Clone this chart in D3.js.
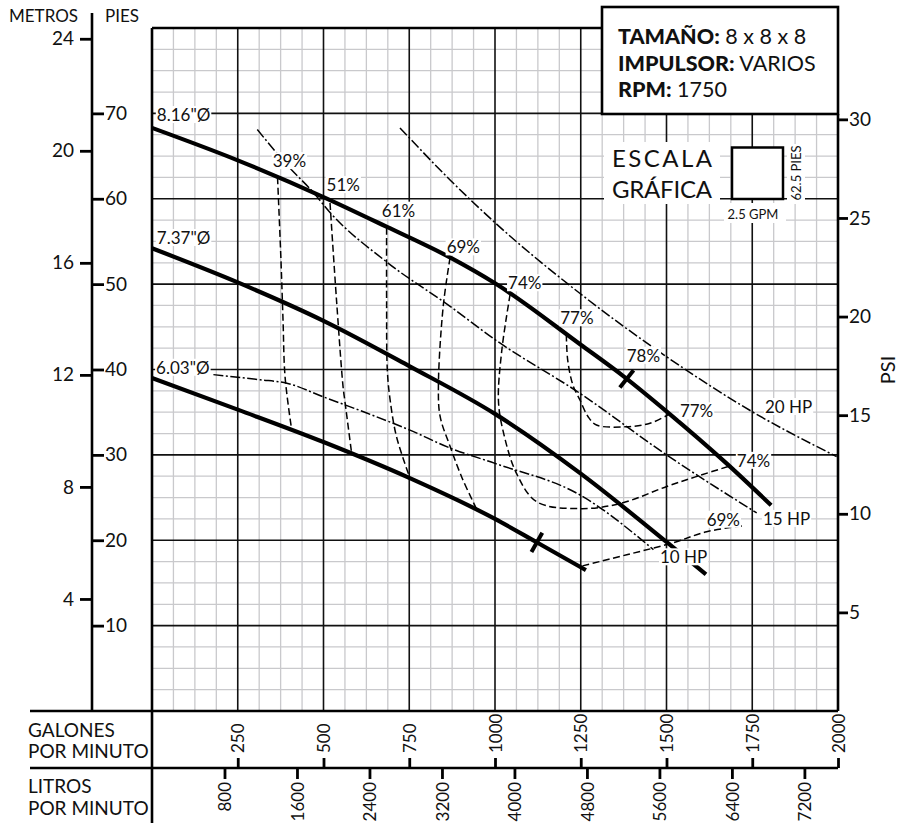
<!DOCTYPE html>
<html>
<head>
<meta charset="utf-8">
<script src="https://cdn.jsdelivr.net/npm/d3@7"></script>
<style>
  body { margin: 0; background: #fff; }
  svg { display: block; }
</style>
</head>
<body>
<div id="chart"></div>
<script>
// curvas del impulsor (GPM / pies)
const d816Gpm = [0, 250, 500, 685, 870, 1000, 1250, 1375, 1500, 1675, 1805];
const d816Ft = [68.3, 64.5, 60.2, 56.7, 53.1, 50.1, 42.9, 39.2, 35.1, 29.0, 24.1];
const d737Gpm = [0, 250, 500, 750, 1000, 1250, 1500, 1615];
const d737Ft = [54.2, 50.2, 45.7, 40.4, 34.8, 27.8, 19.8, 16.0];
const d603Gpm = [0, 250, 500, 750, 1000, 1120, 1265];
const d603Ft = [39.0, 35.3, 31.5, 27.3, 22.5, 19.8, 16.5];

// potencia (HP)
const hp20Gpm = [723, 869, 1000, 1248, 1500, 1748, 1996];
const hp20Ft = [68.3, 62.2, 57.2, 48.9, 41.5, 35.1, 29.8];
const hp15Gpm = [307, 402, 469, 519, 684, 869, 1000, 1248, 1500, 1763];
const hp15Ft = [68.1, 63.6, 60.8, 58.4, 52.6, 47.4, 43.5, 37.2, 30.0, 23.2];
const hp10Gpm = [179, 315, 393, 499, 626, 752, 869, 1000, 1248, 1462];
const hp10Ft = [39.4, 38.8, 38.4, 36.8, 34.9, 32.9, 30.8, 29.0, 25.3, 18.9];

// eficiencia (%)
const eff39Gpm = [366, 376, 382, 388, 407];
const eff39Ft = [62.5, 52.8, 45.8, 39.1, 33.0];
const eff51Gpm = [519, 538, 557, 563, 582];
const eff51Ft = [59.5, 48.1, 38.0, 36.1, 30.2];
const eff61Gpm = [684, 684, 686, 694, 713, 752];
const eff61Ft = [56.6, 48.0, 40.0, 36.5, 32.1, 27.3];
const eff69Gpm = [869, 849, 835, 840, 869, 904, 947];
const eff69Ft = [53.1, 47.4, 38.0, 34.5, 31.0, 27.3, 23.6];
const eff74Gpm = [1044, 1020, 1010, 1023, 1063, 1122, 1248, 1365, 1501, 1598, 1685];
const eff74Ft = [48.8, 42.3, 36.4, 32.9, 27.8, 24.5, 23.7, 24.3, 26.3, 27.6, 28.7];
const eff77Gpm = [1208, 1212, 1227, 1248, 1271, 1296, 1384, 1452, 1510];
const eff77Ft = [44.1, 41.1, 38.2, 36.4, 34.5, 33.5, 33.3, 33.7, 34.8];
const eff69bGpm = [1255, 1384, 1519, 1617, 1723];
const eff69bFt = [17.0, 18.3, 19.7, 21.0, 21.7];

// marcas en las curvas (GPM)
const mark816Gpm = 1384;
const mark603Gpm = 1122;

// etiquetas de ejes
const feetTicks = [10, 20, 30, 40, 50, 60, 70];
const meterTicks = [4, 8, 12, 16, 20, 24];
const psiTicks = [5, 10, 15, 20, 25, 30];
const gpmTicks = [250, 500, 750, 1000, 1250, 1500, 1750, 2000];
const lpmTicks = [800, 1600, 2400, 3200, 4000, 4800, 5600, 6400, 7200];

// textos sobre el gráfico
const curveLabels = [
  { text: "8.16\"Ø", gpm: 14, ft: 69.1 },
  { text: "7.37\"Ø", gpm: 14, ft: 54.7 },
  { text: "6.03\"Ø", gpm: 12, ft: 39.5 },
  { text: "39%", gpm: 352, ft: 63.7 },
  { text: "51%", gpm: 509, ft: 60.9 },
  { text: "61%", gpm: 670, ft: 57.9 },
  { text: "69%", gpm: 859, ft: 53.6 },
  { text: "74%", gpm: 1038, ft: 49.4 },
  { text: "77%", gpm: 1190, ft: 45.3 },
  { text: "78%", gpm: 1384, ft: 40.9 },
  { text: "77%", gpm: 1539, ft: 34.4 },
  { text: "74%", gpm: 1705, ft: 28.6 },
  { text: "69%", gpm: 1617, ft: 21.7 },
  { text: "20 HP", gpm: 1787, ft: 34.9 },
  { text: "15 HP", gpm: 1781, ft: 21.8 },
  { text: "10 HP", gpm: 1481, ft: 17.3 }
];

const W = 904, H = 823;
const FONT = "Lato, 'Open Sans', sans-serif";
const pLeft = 152, pRight = 838, pTop = 28, pBottom = 711;

const svg = d3.select("#chart").append("svg")
  .attr("width", W).attr("height", H)
  .style("font-family", FONT);

// escalas
const x = d3.scaleLinear().domain([0, 2000]).range([pLeft, pRight]);
const y = d3.scaleLinear().domain([0, 80]).range([pBottom, pTop]);
const yM = d3.scaleLinear().domain([0, 80 / 3.28084]).range([pBottom, pTop]);
const yPsi = d3.scaleLinear().domain([0, 80 / 2.31]).range([pBottom, pTop]);
const xL = d3.scaleLinear().domain([0, 2000 * 3.78541]).range([pLeft, pRight]);

// cuadrícula
const grid = svg.append("g");
const minorX = d3.range(0, 2000.1, 62.5).filter(v => v % 250 !== 0);
const minorY = d3.range(0, 80.1, 2.5).filter(v => v % 10 !== 0);
grid.selectAll(".mx").data(minorX).enter().append("line")
  .attr("x1", d => x(d)).attr("x2", d => x(d))
  .attr("y1", pTop).attr("y2", pBottom)
  .attr("stroke", "#c9c9cc").attr("stroke-width", 1.3);
grid.selectAll(".my").data(minorY).enter().append("line")
  .attr("x1", pLeft).attr("x2", pRight)
  .attr("y1", d => y(d)).attr("y2", d => y(d))
  .attr("stroke", "#c9c9cc").attr("stroke-width", 1.3);
grid.selectAll(".Mx").data(d3.range(250, 2000, 250)).enter().append("line")
  .attr("x1", d => x(d)).attr("x2", d => x(d))
  .attr("y1", pTop).attr("y2", pBottom)
  .attr("stroke", "#111").attr("stroke-width", 1.6);
grid.selectAll(".My").data(d3.range(10, 80, 10)).enter().append("line")
  .attr("x1", pLeft).attr("x2", pRight)
  .attr("y1", d => y(d)).attr("y2", d => y(d))
  .attr("stroke", "#111").attr("stroke-width", 1.6);

// helpers de líneas
const zip = (gs, fs) => gs.map((g, i) => [g, fs[i]]);
const smooth = d3.line().x(d => x(d[0])).y(d => y(d[1])).curve(d3.curveMonotoneX);
const loose = d3.line().x(d => x(d[0])).y(d => y(d[1])).curve(d3.curveCatmullRom.alpha(0.5));

// curvas de potencia
[[hp20Gpm, hp20Ft], [hp15Gpm, hp15Ft], [hp10Gpm, hp10Ft]].forEach(([g, f]) => {
  svg.append("path")
    .attr("d", smooth(zip(g, f)))
    .attr("fill", "none").attr("stroke", "#000")
    .attr("stroke-width", 1.5)
    .attr("stroke-dasharray", "10,2.5,2,2.5");
});

// curvas de eficiencia
[[eff39Gpm, eff39Ft], [eff51Gpm, eff51Ft], [eff61Gpm, eff61Ft], [eff69Gpm, eff69Ft],
 [eff74Gpm, eff74Ft], [eff77Gpm, eff77Ft], [eff69bGpm, eff69bFt]].forEach(([g, f]) => {
  svg.append("path")
    .attr("d", loose(zip(g, f)))
    .attr("fill", "none").attr("stroke", "#000")
    .attr("stroke-width", 1.5)
    .attr("stroke-dasharray", "7,3.5");
});

// curvas del impulsor
[[d816Gpm, d816Ft], [d737Gpm, d737Ft], [d603Gpm, d603Ft]].forEach(([g, f]) => {
  svg.append("path")
    .attr("d", smooth(zip(g, f)))
    .attr("fill", "none").attr("stroke", "#000")
    .attr("stroke-width", 4.2)
    .attr("stroke-linecap", "butt");
});

// marcas perpendiculares
function crossMark(gs, fs, gpm) {
  const f = d3.scaleLinear().domain(gs).range(fs);
  const px = x(gpm), py = y(f(gpm));
  const dx = x(gpm + 20) - x(gpm - 20), dy = y(f(gpm + 20)) - y(f(gpm - 20));
  const len = Math.hypot(dx, dy);
  const nx = -dy / len * 11, ny = dx / len * 11;
  svg.append("line")
    .attr("x1", px - nx).attr("y1", py - ny)
    .attr("x2", px + nx).attr("y2", py + ny)
    .attr("stroke", "#000").attr("stroke-width", 4);
}
crossMark(d816Gpm, d816Ft, mark816Gpm);
crossMark(d603Gpm, d603Ft, mark603Gpm);

// etiquetas con fondo blanco
function label(g, txt, tx, ty, size, opts = {}) {
  const t = g.append("text")
    .attr("x", tx).attr("y", ty)
    .attr("font-size", size)
    .attr("text-anchor", opts.anchor || "start")
    .attr("fill", "#111")
    .text(txt);
  if (opts.transform) t.attr("transform", opts.transform);
  if (opts.spacing) t.attr("textLength", opts.spacing).attr("lengthAdjust", "spacing");
  return t;
}
const labelLayer = svg.append("g");
curveLabels.forEach(d => {
  const t = label(labelLayer, d.text, x(d.gpm), y(d.ft), 17);
  const b = t.node().getBBox();
  labelLayer.insert("rect", "text")
    .attr("x", b.x - 1).attr("y", b.y + 2)
    .attr("width", b.width + 2).attr("height", b.height - 4)
    .attr("fill", "#fff");
});

// escala gráfica
const sc = svg.append("g");
sc.append("rect").attr("x", 604).attr("y", 142).attr("width", 116).attr("height", 62).attr("fill", "#fff");
sc.append("rect").attr("x", 724).attr("y", 203).attr("width", 62).attr("height", 20).attr("fill", "#fff");
sc.append("rect").attr("x", 787).attr("y", 144).attr("width", 18).attr("height", 60).attr("fill", "#fff");
label(sc, "ESCALA", 612, 167, 24, { spacing: 100 });
label(sc, "GRÁFICA", 612, 198, 24, { spacing: 100 });
sc.append("rect")
  .attr("x", 732).attr("y", 147.5).attr("width", 51).attr("height", 51.5)
  .attr("fill", "#fff").attr("stroke", "#000").attr("stroke-width", 2.5);
label(sc, "2.5 GPM", 753, 219, 13, { anchor: "middle" });
label(sc, "62.5 PIES", 0, 0, 13, { anchor: "middle", transform: "translate(801,173) rotate(-90)" });

// marco del gráfico
const frame = svg.append("g").attr("stroke", "#000").attr("stroke-width", 2.6);
frame.append("line").attr("x1", pLeft).attr("x2", 602).attr("y1", pTop).attr("y2", pTop);
frame.append("line").attr("x1", pLeft).attr("x2", pLeft).attr("y1", pTop).attr("y2", H);
frame.append("line").attr("x1", pRight).attr("x2", pRight).attr("y1", 114).attr("y2", pBottom);
frame.append("line").attr("x1", 30).attr("x2", pRight).attr("y1", pBottom).attr("y2", pBottom);
frame.append("line").attr("x1", 30).attr("x2", pRight).attr("y1", 768).attr("y2", 768);
frame.append("line").attr("x1", 92).attr("x2", 92).attr("y1", 13).attr("y2", pBottom);

// caja de información
svg.append("rect")
  .attr("x", 602).attr("y", 7).attr("width", 236).attr("height", 107)
  .attr("fill", "#fff").attr("stroke", "#000").attr("stroke-width", 2.6);
[["TAMAÑO:", " 8 x 8 x 8", 44], ["IMPULSOR:", " VARIOS", 71], ["RPM:", " 1750", 97]].forEach(([b, r, ty]) => {
  const t = svg.append("text").attr("x", 618).attr("y", ty).attr("font-size", 21.5).attr("fill", "#111");
  t.append("tspan").attr("font-weight", 900).text(b);
  t.append("tspan").text(r);
});

// ejes
function styleAxis(g, size) {
  g.attr("font-family", FONT).attr("font-size", size);
  g.select(".domain").remove();
  g.selectAll(".tick line").attr("stroke-width", 2.8);
  g.selectAll(".tick text").attr("fill", "#111");
}
const fmt = d3.format("d");

svg.append("g").attr("transform", "translate(92,0)")
  .call(d3.axisRight(y).tickValues(feetTicks).tickSize(12).tickPadding(1))
  .call(g => styleAxis(g, 19));
svg.append("g").attr("transform", "translate(92,0)")
  .call(d3.axisLeft(yM).tickValues(meterTicks).tickSize(12).tickPadding(6))
  .call(g => styleAxis(g, 19));
svg.append("g").attr("transform", `translate(${pRight},0)`)
  .call(d3.axisRight(yPsi).tickValues(psiTicks).tickSize(10).tickPadding(1))
  .call(g => styleAxis(g, 19));

svg.append("g").attr("transform", "translate(0,768)")
  .call(d3.axisTop(x).tickValues(gpmTicks).tickSize(10).tickFormat(fmt))
  .call(g => styleAxis(g, 17))
  .call(g => g.selectAll(".tick text")
    .attr("transform", "rotate(-90)")
    .attr("x", 15).attr("y", 0).attr("dy", "0.36em")
    .attr("text-anchor", "start"));
svg.append("g").attr("transform", "translate(0,768)")
  .call(d3.axisBottom(xL).tickValues(lpmTicks).tickSize(11).tickFormat(fmt))
  .call(g => styleAxis(g, 17))
  .call(g => g.selectAll(".tick text")
    .attr("transform", "rotate(-90)")
    .attr("x", -14).attr("y", 0).attr("dy", "0.36em")
    .attr("text-anchor", "end"));

// títulos de ejes
label(svg, "METROS", 78, 22, 17, { anchor: "end" });
label(svg, "PIES", 105, 22, 17);
label(svg, "GALONES", 28, 737, 19);
label(svg, "POR MINUTO", 28, 758, 19);
label(svg, "LITROS", 28, 793, 19);
label(svg, "POR MINUTO", 28, 815, 19);
label(svg, "PSI", 0, 0, 20, { anchor: "middle", transform: "translate(895,370) rotate(-90)" });
</script>
</body>
</html>
